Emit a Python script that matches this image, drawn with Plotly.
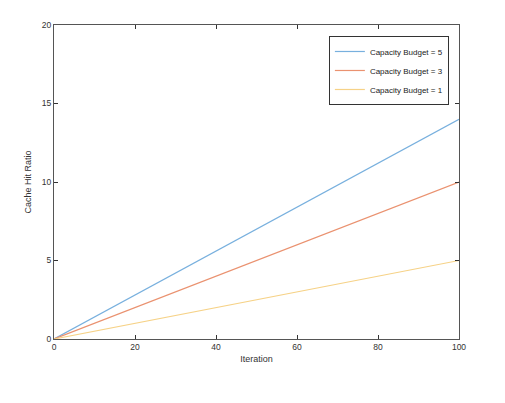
import plotly.graph_objects as go

iterations = [0, 20, 40, 60, 80, 100]
budget5 = [0, 2.8, 5.6, 8.4, 11.2, 14]
budget3 = [0, 2, 4, 6, 8, 10]
budget1 = [0, 1, 2, 3, 4, 5]
names = ["Capacity Budget = 5", "Capacity Budget = 3", "Capacity Budget = 1"]
colors = ["rgb(120,176,222)", "rgb(234,146,112)", "rgb(246,210,135)"]

fig = go.Figure()
for y, n, c in zip([budget5, budget3, budget1], names, colors):
    fig.add_trace(go.Scatter(x=iterations, y=y, mode="lines", name=n,
                             line=dict(color=c, width=1.2)))

axis_common = dict(showline=True, linecolor="#555", linewidth=1, mirror="ticks",
                   ticks="inside", ticklen=4, tickcolor="#333", showgrid=False,
                   zeroline=False, tickfont=dict(size=8.5, color="#333"))
fig.update_layout(
    width=505, height=403,
    margin=dict(l=46, r=54, t=15, b=72),
    plot_bgcolor="white", paper_bgcolor="white",
    font=dict(family="Liberation Sans, Arial, sans-serif", size=8, color="#333"),
    xaxis=dict(range=[0, 100], tickvals=[0, 20, 40, 60, 80, 100],
               title=dict(text="Iteration", font=dict(size=9), standoff=4), **axis_common),
    yaxis=dict(range=[0, 20], tickvals=[0, 5, 10, 15, 20],
               title=dict(text="Cache Hit Ratio", font=dict(size=9), standoff=8), **axis_common),
    legend=dict(x=0.975, y=0.965, xanchor="right", yanchor="top",
                bgcolor="white", bordercolor="#333", borderwidth=1,
                font=dict(size=8, color="#222"), tracegroupgap=0, itemwidth=30),
    showlegend=True,
)
fig.write_html("out.html")
